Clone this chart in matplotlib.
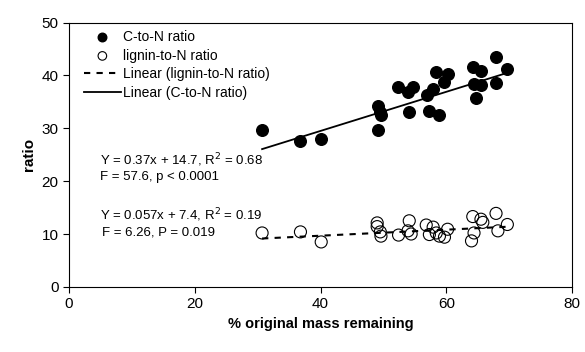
import numpy as np
import matplotlib.pyplot as plt

plt.rcParams['font.family'] = ['Liberation Sans', 'DejaVu Sans']

# C-to-N ratio (filled circles)
cn_x = [30.7, 36.8, 40.0, 49.1, 49.1, 49.4, 49.6, 52.3, 53.9, 54.7, 54.0, 57.0, 57.8,
        57.3, 58.9, 58.4, 60.2, 59.7, 64.2, 65.5, 64.4, 65.5, 64.7, 67.9, 69.7, 67.9]
cn_y = [29.6, 27.5, 27.9, 29.6, 34.3, 33.1, 32.5, 37.9, 36.9, 37.8, 33.0, 36.2, 37.5,
        33.3, 32.6, 40.6, 40.3, 38.7, 41.6, 40.9, 38.4, 38.1, 35.8, 43.5, 41.3, 38.5]

# lignin-to-N ratio (open circles)
ln_x = [30.7, 36.8, 40.1, 49.0, 49.0, 49.5, 49.6, 52.4, 54.1, 53.9, 54.4, 56.8, 57.9,
        57.3, 58.4, 58.9, 59.7, 60.2, 64.2, 65.5, 65.8, 64.4, 64.0, 67.9, 69.7, 68.2]
ln_y = [10.2, 10.4, 8.5, 12.1, 11.4, 10.4, 9.6, 9.8, 12.5, 10.6, 10.0, 11.7, 11.3,
        9.9, 10.2, 9.6, 9.4, 10.9, 13.3, 12.8, 12.2, 10.2, 8.7, 13.9, 11.8, 10.6]

# regression coefficients as printed on the chart
cn_fit = (0.37, 14.7)
ln_fit = (0.057, 7.4)

fig = plt.figure(figsize=(5.85, 3.52), dpi=100)
ax = fig.add_axes([0.118, 0.185, 0.860, 0.751])

ax.scatter(cn_x, cn_y, s=70, color='black', zorder=3, label='C-to-N ratio')
ax.scatter(ln_x, ln_y, s=75, facecolors='none', edgecolors='black', linewidths=0.8,
           zorder=3, label='lignin-to-N ratio')

xs = np.array([min(cn_x), max(cn_x)])
ax.plot(xs, ln_fit[0] * xs + ln_fit[1], color='black', ls=(0, (3, 3)), lw=1.5,
        label='Linear (lignin-to-N ratio)')
ax.plot(xs, cn_fit[0] * xs + cn_fit[1], color='black', lw=1.3,
        label='Linear (C-to-N ratio)')

# fit statistics
ax.text(4.9, 24.0, 'Y = 0.37x + 14.7, R$^2$ = 0.68', fontsize=9.5, va='center')
ax.text(4.9, 20.7, 'F = 57.6, p < 0.0001', fontsize=9.5, va='center')
ax.text(4.9, 13.6, 'Y = 0.057x + 7.4, R$^2$ = 0.19', fontsize=9.5, va='center')
ax.text(5.3, 10.2, 'F = 6.26, P = 0.019', fontsize=9.5, va='center')

ax.set_xlim(0, 80)
ax.set_ylim(0, 50)
ax.set_xticks([0, 20, 40, 60, 80])
ax.set_yticks([0, 10, 20, 30, 40, 50])
ax.tick_params(direction='out', length=4, labelsize=11)
ax.set_xlabel('% original mass remaining', fontsize=10.5, fontweight='bold')
ax.set_ylabel('ratio', fontsize=11, fontweight='bold')

leg = ax.legend(loc='upper left', frameon=False, fontsize=10, handlelength=2.7,
                handletextpad=0.15, labelspacing=0.33, borderaxespad=0.75,
                borderpad=0.3, bbox_to_anchor=(0.0, 1.027))
leg.legend_handles[0].set_sizes([38])
leg.legend_handles[1].set_sizes([38])

fig.savefig('out.png', dpi=100)
